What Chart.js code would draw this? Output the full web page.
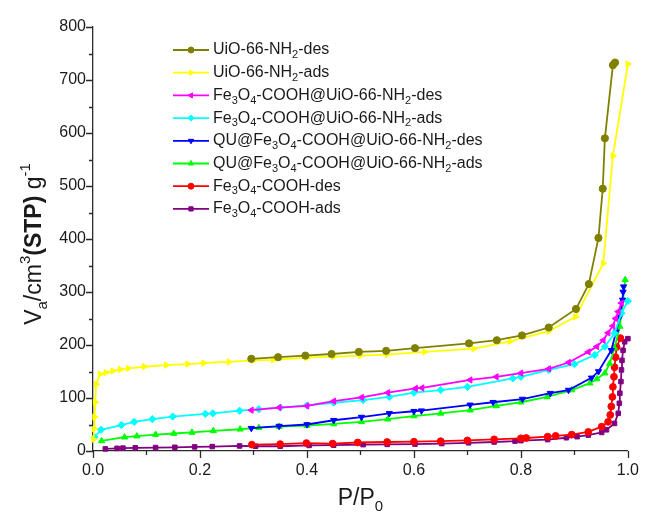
<!DOCTYPE html>
<html>
<head>
<meta charset="utf-8">
<script src="https://cdn.jsdelivr.net/npm/chart.js@4.4.0/dist/chart.umd.min.js"></script>
<style>
    body { margin: 0; background: #fff; }
    #wrap { width: 649px; height: 516px; }
</style>
</head>
<body>
<div id="wrap"><canvas id="isoChart" width="649" height="516"></canvas></div>
<script>
// N2 isotherms: relative pressure (P/P0) and adsorbed volume (cm3 g-1)
const uioDesP = [0.296, 0.346, 0.397, 0.446, 0.497, 0.548, 0.602, 0.703, 0.755, 0.802, 0.852, 0.903, 0.927, 0.945, 0.953, 0.957, 0.972, 0.976];
const uioDesV = [174, 177, 180, 183, 187, 189, 194, 203, 209, 218, 233, 268, 315, 402, 495, 590, 728, 733];

const uioAdsP = [0.001, 0.002, 0.003, 0.004, 0.006, 0.013, 0.024, 0.037, 0.051, 0.066, 0.096, 0.137, 0.177, 0.207, 0.254, 0.3, 0.337, 0.4, 0.45, 0.5, 0.55, 0.62, 0.712, 0.78, 0.852, 0.902, 0.954, 0.972, 1.0];
const uioAdsV = [22, 42, 64, 92, 126, 145, 148, 151, 154, 156, 159, 162, 164, 166, 168, 171, 172, 176, 178, 180, 182, 187, 193, 207, 226, 253, 354, 557, 730];

const feUioDesP = [0.296, 0.348, 0.4, 0.45, 0.502, 0.551, 0.603, 0.615, 0.705, 0.754, 0.8, 0.852, 0.889, 0.926, 0.942, 0.954, 0.963, 0.972, 0.977, 0.982, 0.988];
const feUioDesV = [77, 82, 85, 94, 101, 110, 118, 119, 134, 140, 147, 155, 167, 187, 197, 209, 223, 236, 250, 263, 279];

const feUioAdsP = [0.003, 0.015, 0.053, 0.077, 0.111, 0.149, 0.21, 0.224, 0.274, 0.31, 0.35, 0.4, 0.45, 0.505, 0.554, 0.6, 0.65, 0.7, 0.785, 0.8, 0.852, 0.9, 0.938, 0.957, 0.975, 0.988, 1.0];
const feUioAdsV = [26, 40, 49, 55, 60, 65, 70, 71, 76, 79, 82, 86, 91, 96, 102, 110, 115, 121, 137, 140, 153, 164, 181, 197, 222, 260, 283];

const quDesP = [0.296, 0.348, 0.4, 0.45, 0.502, 0.554, 0.6, 0.614, 0.705, 0.748, 0.803, 0.855, 0.889, 0.932, 0.945, 0.969, 0.978, 0.985, 0.99, 0.991, 0.992];
const quDesV = [43, 47, 50, 58, 64, 71, 75, 76, 87, 92, 98, 109, 115, 138, 150, 190, 225, 253, 285, 300, 310];

const quAdsP = [0.016, 0.059, 0.082, 0.117, 0.151, 0.185, 0.225, 0.275, 0.31, 0.348, 0.4, 0.45, 0.502, 0.551, 0.6, 0.65, 0.705, 0.754, 0.8, 0.849, 0.895, 0.929, 0.942, 0.957, 0.966, 0.975, 0.985, 0.991, 0.995];
const quAdsV = [19, 26, 28, 31, 33, 35, 38, 41, 44, 46, 48, 51, 55, 60, 66, 71, 77, 85, 92, 102, 115, 128, 136, 147, 165, 194, 235, 285, 323];

const feDesP = [0.297, 0.35, 0.399, 0.448, 0.495, 0.55, 0.6, 0.65, 0.7, 0.75, 0.8, 0.81, 0.85, 0.865, 0.895, 0.926, 0.951, 0.963, 0.967, 0.969, 0.971, 0.972, 0.974, 0.975, 0.977, 0.979, 0.986];
const feDesV = [12, 13, 15, 14, 16, 17, 17.5, 18.5, 20, 22, 24, 24.5, 27, 28.5, 31, 36, 46, 55, 68, 84, 102, 121, 140, 158, 177, 196, 213];

const feAdsP = [0.023, 0.045, 0.056, 0.079, 0.117, 0.153, 0.19, 0.223, 0.274, 0.304, 0.35, 0.404, 0.45, 0.505, 0.55, 0.602, 0.652, 0.702, 0.75, 0.789, 0.8, 0.85, 0.885, 0.905, 0.926, 0.951, 0.96, 0.975, 0.982, 0.984, 0.985, 0.987, 0.988, 0.989, 0.991, 0.994, 1.0];
const feAdsV = [4, 5, 5.5, 6, 6.5, 7, 7.7, 8.4, 9.5, 9, 9, 10.5, 11, 12, 12.5, 13, 14, 15.5, 17, 18.7, 19.5, 21.5, 25, 27, 30, 35, 40, 52, 71, 90, 109, 131, 153, 171, 190, 206, 212];

const seriesLabels = [
    'UiO-66-NH₂-des',
    'UiO-66-NH₂-ads',
    'Fe₃O₄-COOH@UiO-66-NH₂-des',
    'Fe₃O₄-COOH@UiO-66-NH₂-ads',
    'QU@Fe₃O₄-COOH@UiO-66-NH₂-des',
    'QU@Fe₃O₄-COOH@UiO-66-NH₂-ads',
    'Fe₃O₄-COOH-des',
    'Fe₃O₄-COOH-ads'
];

const xTickLabels = ['0.0', '0.2', '0.4', '0.6', '0.8', '1.0'];
const yTickLabels = ['0', '100', '200', '300', '400', '500', '600', '700', '800'];

const xTitleParts = [['P/P', ''], ['0', 'sub']];
const yTitleParts = [['V', ''], ['a', 'sub'], ['/cm', ''], ['3', 'sup'], ['(STP)', 'b'], [' g', ''], ['-1', 'sup']];

const series = [
    { p: uioDesP, v: uioDesV, color: '#808000', style: 'circle', rot: 0, r: 3.6 },
    { p: uioAdsP, v: uioAdsV, color: '#ffff00', style: 'triangle', rot: 90, r: 3.6 },
    { p: feUioDesP, v: feUioDesV, color: '#ff00ff', style: 'triangle', rot: -90, r: 3.6 },
    { p: feUioAdsP, v: feUioAdsV, color: '#00ffff', style: 'rectRot', rot: 0, r: 3.6 },
    { p: quDesP, v: quDesV, color: '#0000ff', style: 'triangle', rot: 180, r: 3.6 },
    { p: quAdsP, v: quAdsV, color: '#00ff00', style: 'triangle', rot: 0, r: 3.6 },
    { p: feDesP, v: feDesV, color: '#ff0000', style: 'circle', rot: 0, r: 3.4 },
    { p: feAdsP, v: feAdsV, color: '#800080', style: 'rect', rot: 0, r: 3.2 }
];

const FONT = '"Liberation Sans", Arial, sans-serif';
const subChars = { '₀': '0', '₁': '1', '₂': '2', '₃': '3', '₄': '4', 'ₐ': 'a' };

// split a label into normal / subscript runs
function parseScripts(str) {
    const parts = [];
    for (const ch of str) {
        const kind = subChars[ch] ? 'sub' : '';
        const t = subChars[ch] || ch;
        const last = parts[parts.length - 1];
        if (last && last[1] === kind) last[0] += t;
        else parts.push([t, kind]);
    }
    return parts;
}

function partFont(kind, size) {
    if (kind === 'sub' || kind === 'sup') return `${Math.round(size * 0.66)}px ${FONT}`;
    if (kind === 'b') return `bold ${size}px ${FONT}`;
    return `${size}px ${FONT}`;
}

function drawRich(ctx, parts, x, y, size, align) {
    ctx.textBaseline = 'middle';
    ctx.textAlign = 'left';
    let total = 0;
    parts.forEach(([t, k]) => { ctx.font = partFont(k, size); total += ctx.measureText(t).width; });
    let cx = align === 'center' ? x - total / 2 : x;
    parts.forEach(([t, k]) => {
        ctx.font = partFont(k, size);
        let dy = 0;
        if (k === 'sub') dy = size * 0.32;
        if (k === 'sup') dy = -size * 0.38;
        ctx.fillText(t, cx, y + dy);
        cx += ctx.measureText(t).width;
    });
}

const decorPlugin = {
    id: 'decor',
    afterDraw(chart) {
        const { ctx, chartArea, scales: { x, y } } = chart;
        ctx.save();

        // tick marks (major with labels, minor without)
        ctx.strokeStyle = '#2b2b2b';
        ctx.lineWidth = 1.3;
        ctx.beginPath();
        x.ticks.forEach(t => {
            const px = Math.round(x.getPixelForValue(t.value)) + 0.5;
            const len = t.label ? 7 : 4;
            ctx.moveTo(px, chartArea.bottom);
            ctx.lineTo(px, chartArea.bottom + len);
        });
        y.ticks.forEach(t => {
            const py = Math.round(y.getPixelForValue(t.value)) + 0.5;
            const len = t.label ? 7 : 4;
            ctx.moveTo(chartArea.left, py);
            ctx.lineTo(chartArea.left - len, py);
        });
        ctx.stroke();

        // axis titles
        ctx.fillStyle = '#1a1a1a';
        drawRich(ctx, xTitleParts, (chartArea.left + chartArea.right) / 2, 499, 23, 'center');
        ctx.save();
        ctx.translate(35, 244);
        ctx.rotate(-Math.PI / 2);
        drawRich(ctx, yTitleParts, 0, 0, 23, 'center');
        ctx.restore();

        // legend inside plot area
        const lx = 173, top = 50, gap = 22.7;
        series.forEach((s, i) => {
            const ly = top + i * gap;
            ctx.strokeStyle = s.color;
            ctx.fillStyle = s.color;
            ctx.lineWidth = 1.8;
            ctx.beginPath();
            ctx.moveTo(lx, ly);
            ctx.lineTo(lx + 36, ly);
            ctx.stroke();
            ctx.lineWidth = 1;
            Chart.helpers.drawPoint(ctx, { pointStyle: s.style, rotation: s.rot, radius: 3, borderWidth: 1 }, lx + 18, ly);
            ctx.fillStyle = '#1a1a1a';
            drawRich(ctx, parseScripts(seriesLabels[i]), lx + 40, ly, 16, 'left');
        });
        ctx.restore();
    }
};

const datasets = series.map((s, i) => ({
    label: seriesLabels[i],
    data: s.p.map((p, j) => ({ x: p, y: s.v[j] })),
    showLine: true,
    borderColor: s.color,
    backgroundColor: s.color,
    borderWidth: 1.8,
    pointStyle: s.style,
    rotation: s.rot,
    pointRadius: s.r,
    pointBorderWidth: 1,
    clip: false
}));

new Chart(document.getElementById('isoChart').getContext('2d'), {
    type: 'scatter',
    data: { datasets },
    options: {
        responsive: false,
        animation: false,
        layout: { padding: { top: 27, right: 14, left: 0, bottom: 0 } },
        plugins: { legend: { display: false }, tooltip: { enabled: false } },
        scales: {
            x: {
                type: 'linear',
                min: 0,
                max: 1,
                grid: { display: false, drawTicks: false },
                border: { display: true, color: '#2b2b2b', width: 1.3 },
                ticks: {
                    stepSize: 0.1,
                    autoSkip: false,
                    maxRotation: 0,
                    padding: 10,
                    color: '#1a1a1a',
                    font: { family: FONT, size: 16 },
                    callback: (value) => {
                        const s = Number(value).toFixed(1);
                        return xTickLabels.includes(s) ? s : '';
                    }
                },
                afterFit: (scale) => { scale.height = 65; }
            },
            y: {
                type: 'linear',
                min: 0,
                max: 800,
                grid: { display: false, drawTicks: false },
                border: { display: true, color: '#2b2b2b', width: 1.3 },
                ticks: {
                    stepSize: 50,
                    autoSkip: false,
                    padding: 7,
                    color: '#1a1a1a',
                    font: { family: FONT, size: 16 },
                    callback: (value) => {
                        const s = String(Math.round(value));
                        return yTickLabels.includes(s) ? s : '';
                    }
                },
                afterFit: (scale) => { scale.width = 93; }
            }
        }
    },
    plugins: [decorPlugin]
});
</script>
</body>
</html>
